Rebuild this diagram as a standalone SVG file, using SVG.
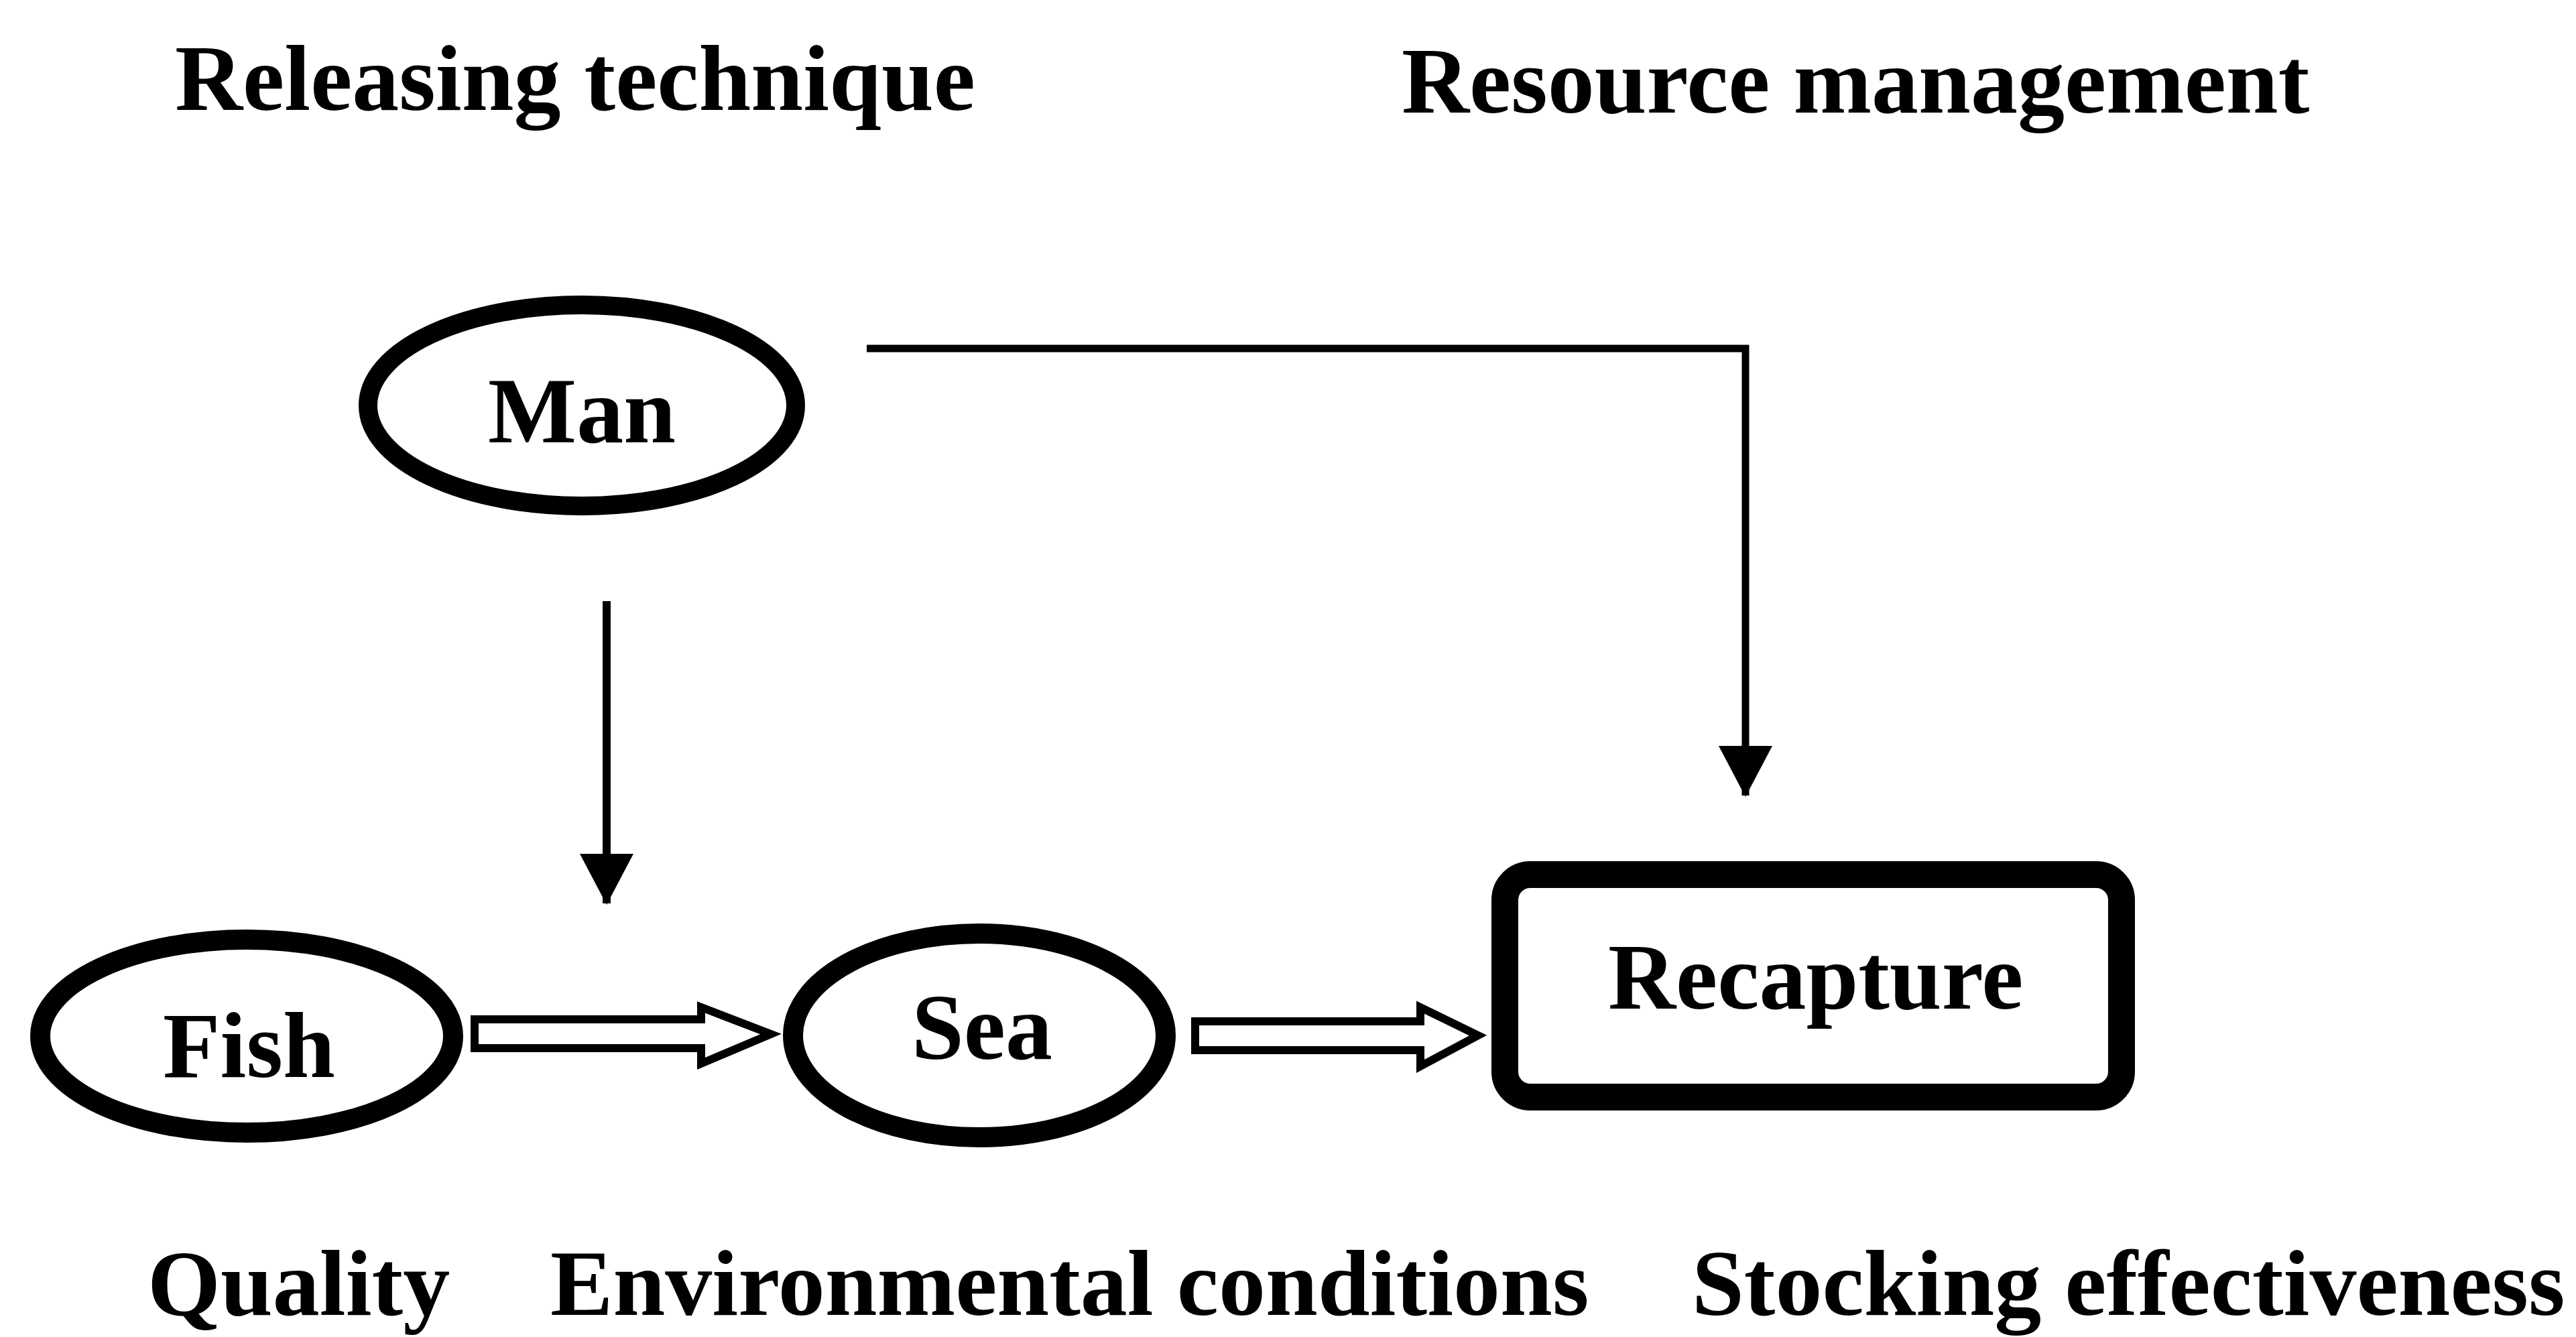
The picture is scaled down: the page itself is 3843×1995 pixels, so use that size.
<svg xmlns="http://www.w3.org/2000/svg" width="3843" height="1995" viewBox="0 0 3843 1995">
  <style>
    .t { font-family: "Liberation Serif", "Times New Roman", serif; font-weight: bold; font-size: 140px; fill: #000; }
    .node { fill: #fff; stroke: #000; }
    .conn { fill: none; stroke: #000; stroke-width: 11; }
    .hollow { fill: #fff; stroke: #000; stroke-width: 12; stroke-linejoin: miter; }
  </style>
  <defs>
    <marker id="ah" markerUnits="userSpaceOnUse" markerWidth="80" markerHeight="80" viewBox="0 0 76 80" refX="74" refY="40" orient="auto">
      <path d="M0,0 L76,40 L0,80 z" fill="#000"/>
    </marker>
  </defs>
  <rect width="3843" height="1995" fill="#fff"/>

  <g id="headers">
    <text class="t" x="261" y="164">Releasing technique</text>
    <text class="t" x="2091" y="168">Resource management</text>
  </g>

  <g id="connectors">
    <path class="conn" d="M1293,520 H2604 V1187" marker-end="url(#ah)"/>
    <path class="conn" style="stroke-width:12" d="M905,897 V1348" marker-end="url(#ah)"/>
    <polygon class="hollow" points="708,1521 1046,1521 1046,1503 1150,1543 1046,1587 1046,1564 708,1564"/>
    <polygon class="hollow" points="1783,1524 2119,1524 2119,1503 2205,1545 2119,1591 2119,1567 1783,1567"/>
  </g>

  <g id="node-man">
    <ellipse class="node" cx="868" cy="605" rx="319" ry="150" stroke-width="28"/>
    <text class="t" x="868" y="660" text-anchor="middle">Man</text>
  </g>

  <g id="node-fish">
    <ellipse class="node" cx="368" cy="1546" rx="308" ry="144" stroke-width="30"/>
    <text class="t" x="243" y="1607">Fish</text>
  </g>

  <g id="node-sea">
    <ellipse class="node" cx="1461" cy="1545" rx="278" ry="152" stroke-width="30"/>
    <text class="t" x="1360" y="1580">Sea</text>
  </g>

  <g id="node-recapture">
    <rect class="node" x="2245" y="1305" width="920" height="332" rx="38" ry="38" stroke-width="40"/>
    <text class="t" x="2399" y="1505">Recapture</text>
  </g>

  <g id="footers">
    <text class="t" x="220" y="1962">Quality</text>
    <text class="t" x="821" y="1962">Environmental conditions</text>
    <text class="t" x="2524" y="1962">Stocking effectiveness</text>
  </g>
</svg>
